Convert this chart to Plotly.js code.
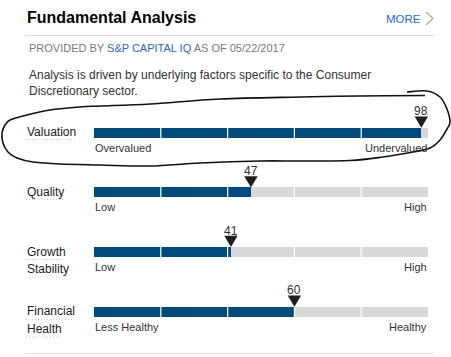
<!DOCTYPE html>
<html><head><meta charset="utf-8">
<script src="https://cdn.plot.ly/plotly-3.0.1.min.js"></script>
<style>html,body{margin:0;padding:0;background:#fff;overflow:hidden}#chart{width:451px;height:357px}</style>
</head><body><div id="chart"></div>
<script>
// ---- data ----
const categories = ['Valuation', 'Quality', 'Growth Stability', 'Financial Health'];
const scores = [98, 47, 41, 60];
const rowLabels = [['Valuation'], ['Quality'], ['Growth', 'Stability'], ['Financial', 'Health']];
const lowLabels = ['Overvalued', 'Low', 'Low', 'Less Healthy'];
const highLabels = ['Undervalued', 'High', 'High', 'Healthy'];
const segmentTicks = [20, 40, 60, 80];
const maxScore = 100;
const remainder = scores.map(s => maxScore - s);

// ---- layout helpers ----
const W = 451, H = 357;
const px = x => x / W, py = y => 1 - y / H;
const FONT = 'Arial, "Liberation Sans", sans-serif';
const BLUE = '#004b7c', GRAY = '#d9d9d9';
const BARW = 0.1676;

const traces = [
  {type: 'bar', orientation: 'h', y: categories, x: scores, width: BARW,
   marker: {color: BLUE, line: {width: 0}}, hoverinfo: 'skip'},
  {type: 'bar', orientation: 'h', y: categories, x: remainder, width: BARW,
   marker: {color: GRAY, line: {width: 0}}, hoverinfo: 'skip'}
];

const shapes = [];
const annotations = [];

// segment dividers and markers per row
categories.forEach((c, i) => {
  segmentTicks.forEach(t => {
    shapes.push({type: 'line', xref: 'x', yref: 'y', x0: t, x1: t,
      y0: i - BARW / 2 - 0.01, y1: i + BARW / 2 + 0.01, line: {color: '#ffffff', width: 1.2}});
  });
  shapes.push({type: 'path', xref: 'x', yref: 'y', xsizemode: 'pixel', ysizemode: 'pixel',
    xanchor: scores[i], yanchor: i, path: 'M-6.7,16.2L6.7,16.2L0,5Z',
    fillcolor: '#1e1e1e', line: {width: 0}});
  annotations.push({xref: 'x', yref: 'y', x: scores[i], y: i, yshift: 21.5, text: String(scores[i]),
    showarrow: false, font: {family: FONT, size: 12, color: '#333'}, xanchor: 'center', yanchor: 'middle'});
  annotations.push({xref: 'x', yref: 'y', x: 0, y: i, yshift: -15, xshift: -1, text: lowLabels[i],
    showarrow: false, font: {family: FONT, size: 11, color: '#333'}, xanchor: 'left', yanchor: 'middle'});
  annotations.push({xref: 'x', yref: 'y', x: maxScore, y: i, yshift: -15, xshift: 1, text: highLabels[i],
    showarrow: false, font: {family: FONT, size: 11, color: '#333'}, xanchor: 'right', yanchor: 'middle'});
  rowLabels[i].forEach((t, k) => {
    annotations.push({xref: 'paper', yref: 'y', x: px(25), y: i, yshift: (k === 0 ? 0.5 : -17), text: t,
      showarrow: false, font: {family: FONT, size: 12, color: '#1a1a1a'}, xanchor: 'left', yanchor: 'middle'});
  });
});

// dotted underlines beneath row labels [x0, x1, y]
const underlines = [[26, 75, 139.5], [26, 63, 199.5], [26, 64, 259.5], [26, 67, 277], [26, 73, 319.5], [26, 60, 337]];
underlines.forEach(u => shapes.push({type: 'line', xref: 'paper', yref: 'paper',
  x0: px(u[0]), x1: px(u[1]), y0: py(u[2]), y1: py(u[2]), line: {color: '#c8c8c8', width: 1, dash: '1px,2px'}}));

// separators
shapes.push({type: 'line', xref: 'paper', yref: 'paper', x0: px(25), x1: px(434), y0: py(35.5), y1: py(35.5), line: {color: '#dddddd', width: 1}});
shapes.push({type: 'line', xref: 'paper', yref: 'paper', x0: px(25), x1: px(434), y0: py(353.5), y1: py(353.5), line: {color: '#dddddd', width: 1}});
// chevron
shapes.push({type: 'path', xref: 'paper', yref: 'paper',
  path: `M${px(426)},${py(12)}L${px(433)},${py(18.5)}L${px(426)},${py(25)}`, line: {color: '#aaaaaa', width: 1.3}});

// hand-drawn loop around the Valuation row
const loop = [[407,92],[427,91],[440,97],[447,109],[450,122],[447,129],[440,140],[430,148],[413,152],[383,157],[350,160.5],[300,161],[260,161],[200,163],[150,166],[100,165],[60,164],[33,162],[17,158],[8,152],[3,143],[2,133],[5,125],[10,120],[23,116],[50,110],[80,107],[100,106],[150,104],[220,99],[300,97],[360,96],[425,95.5]];
function smooth(pts) {
  let d = `M${px(pts[0][0])},${py(pts[0][1])}`;
  for (let i = 0; i < pts.length - 1; i++) {
    const p0 = pts[Math.max(i - 1, 0)], p1 = pts[i], p2 = pts[i + 1], p3 = pts[Math.min(i + 2, pts.length - 1)];
    const c1 = [p1[0] + (p2[0] - p0[0]) / 6, p1[1] + (p2[1] - p0[1]) / 6];
    const c2 = [p2[0] - (p3[0] - p1[0]) / 6, p2[1] - (p3[1] - p1[1]) / 6];
    d += `C${px(c1[0])},${py(c1[1])} ${px(c2[0])},${py(c2[1])} ${px(p2[0])},${py(p2[1])}`;
  }
  return d;
}
shapes.push({type: 'path', xref: 'paper', yref: 'paper', path: smooth(loop), line: {color: '#111', width: 1.6}});

// header texts
const pa = (x, y, text, size, color, anchor) => annotations.push({xref: 'paper', yref: 'paper', x: px(x), y: py(y),
  text, showarrow: false, font: {family: FONT, size, color}, xanchor: anchor || 'left', yanchor: 'middle'});
pa(25, 17.5, '<b>Fundamental Analysis</b>', 16, '#000');
pa(423, 18.5, 'MORE', 11.5, '#1f6ad4', 'right');
pa(27, 48.5, 'PROVIDED BY <span style="color:#2d67cc">S&amp;P CAPITAL IQ</span> AS OF 05/22/2017', 11, '#7a7a7a');
pa(27, 75, 'Analysis is driven by underlying factors specific to the Consumer', 12, '#333');
pa(27, 91, 'Discretionary sector.', 12, '#333');

const layout = {
  width: W, height: H, margin: {l: 0, r: 0, t: 0, b: 0, pad: 0},
  paper_bgcolor: '#fff', plot_bgcolor: 'rgba(0,0,0,0)', showlegend: false, barmode: 'stack',
  xaxis: {domain: [94 / W, 428 / W], range: [0, maxScore], visible: false, fixedrange: true},
  yaxis: {type: 'category', categoryarray: categories, domain: [1 - 341.5 / H, 1 - 102.9 / H],
    range: [3.5, -0.5], visible: false, fixedrange: true},
  shapes, annotations
};
Plotly.newPlot('chart', traces, layout, {displayModeBar: false, staticPlot: true});
</script></body></html>
